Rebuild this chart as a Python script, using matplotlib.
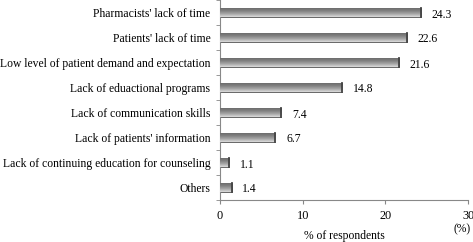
import numpy as np
import matplotlib.pyplot as plt
from matplotlib.colors import LinearSegmentedColormap

categories = [
    "Pharmacists' lack of time",
    "Patients' lack of time",
    "Low level of patient demand and expectation",
    "Lack of eduactional programs",
    "Lack of communication skills",
    "Lack of patients' information",
    "Lack of continuing education for counseling",
    "Others",
]
values = [24.3, 22.6, 21.6, 14.8, 7.4, 6.7, 1.1, 1.4]
xticks = [0, 10, 20, 30]

plt.rcParams['font.family'] = ['Liberation Serif', 'DejaVu Serif']

fig = plt.figure(figsize=(4.73, 2.42), dpi=100)
ax = fig.add_axes([220 / 473, 42 / 242, 248 / 473, 200 / 242])

y = np.arange(len(categories))
bars = ax.barh(y, values, height=0.38, color='#8a8a8a', edgecolor='#5a5a5a', linewidth=0.6, zorder=2)

# simple shaded look on each bar
cmap = LinearSegmentedColormap.from_list('bevel', ['#dcdcdc', '#a4a4a4', '#7c7c7c', '#666666'])
grad = np.linspace(0, 1, 64).reshape(-1, 1)
for b in bars:
    x0, y0 = b.get_x(), b.get_y()
    w, h = b.get_width(), b.get_height()
    im = ax.imshow(grad, extent=[x0, x0 + w, y0, y0 + h], cmap=cmap, aspect='auto', zorder=3, origin='upper')
    im.set_clip_path(b)
    ax.plot([x0 + w, x0 + w], [y0, y0 + h], color='#444444', lw=1.3, zorder=4)

for b, v in zip(bars, values):
    ax.text(b.get_width() + 1.3, b.get_y() + b.get_height() / 2 + 0.08, f'{v:.1f}',
            va='center', ha='left', fontsize=8.4)

ax.set_xlim(0, 30)
ax.set_ylim(len(categories) - 0.5, -0.5)
ax.set_xticks(xticks)
ax.set_xticklabels([str(t) for t in xticks], fontsize=8.8)
ax.set_yticks(y)
ax.set_yticklabels(categories, fontsize=8.4)
ax.tick_params(axis='y', length=0, pad=7)
ax.set_yticks(np.arange(len(categories) + 1) - 0.5, minor=True)
ax.tick_params(axis='y', which='minor', length=3, color='#888888')
ax.tick_params(axis='x', length=3, color='#888888', pad=4)

for s in ['top', 'right']:
    ax.spines[s].set_visible(False)
ax.spines['left'].set_color('#888888')
ax.spines['bottom'].set_color('#888888')

ax.set_xlabel('% of respondents', fontsize=8.4, labelpad=6)
fig.text(462 / 473, 1 - 229 / 242, '(%)', ha='center', va='center', fontsize=8.4)

fig.savefig('out.png', dpi=100)
